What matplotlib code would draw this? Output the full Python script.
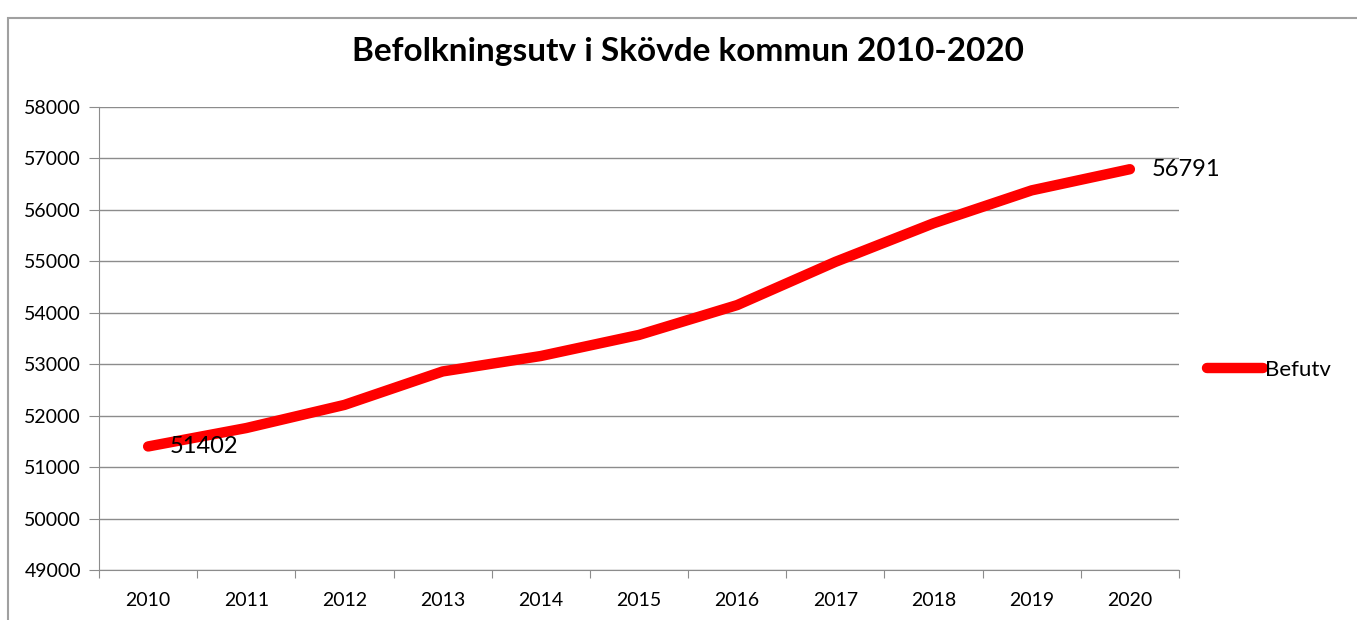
import matplotlib
matplotlib.use("Agg")
import matplotlib.pyplot as plt
from matplotlib.patches import Rectangle
import numpy as np

plt.rcParams['font.family'] = ['Lato', 'DejaVu Sans']

years = ['2010', '2011', '2012', '2013', '2014', '2015', '2016', '2017', '2018', '2019', '2020']
befutv = [51402, 51760, 52210, 52860, 53160, 53570, 54150, 54990, 55740, 56380, 56791]
yticks = [49000, 50000, 51000, 52000, 53000, 54000, 55000, 56000, 57000, 58000]

fig = plt.figure(figsize=(13.57, 6.2), dpi=100)
ax = fig.add_axes([0.0730, 0.0806, 0.7958, 0.7468])

# chart border (top and left visible)
fig.patches.append(Rectangle((8 / 1357, -0.1), 1.2, 1 - 18 / 620 + 0.1, transform=fig.transFigure,
                             fill=False, edgecolor='#a0a0a0', linewidth=1.5))

x = np.arange(len(years))
ax.plot(x, befutv, color='#ff0000', linewidth=7.5, solid_capstyle='round',
        solid_joinstyle='round', label='Befutv')

ax.text(x[0] + 0.22, befutv[0], str(befutv[0]), fontsize=17, va='center', ha='left')
ax.text(x[-1] + 0.22, befutv[-1], str(befutv[-1]), fontsize=17, va='center', ha='left')

ax.set_xlim(-0.5, len(years) - 0.5)
ax.set_ylim(49000, 58000)
ax.set_yticks(yticks)
ax.set_yticklabels([str(v) for v in yticks], fontsize=14)
ax.yaxis.grid(True, color='#8c8c8c', linewidth=1)
ax.set_axisbelow(True)

ax.set_xticks(np.arange(-0.5, len(years), 1))
ax.set_xticklabels([])
ax.set_xticks(x, minor=True)
ax.set_xticklabels(years, minor=True, fontsize=14)
ax.tick_params(axis='x', which='major', length=6, color='#8c8c8c', direction='out')
ax.tick_params(axis='x', which='minor', length=0, pad=16)
ax.tick_params(axis='y', length=7, color='#8c8c8c', pad=6)

for s in ['top', 'right']:
    ax.spines[s].set_visible(False)
for s in ['left', 'bottom']:
    ax.spines[s].set_color('#8c8c8c')

fig.text(688 / 1357, 1 - 52 / 620, 'Befolkningsutv i Skövde kommun 2010-2020',
         fontsize=24, fontweight='bold', ha='center', va='center')

fig.legend(loc='center left', bbox_to_anchor=(1187 / 1357, 1 - 370 / 620), frameon=False,
           fontsize=16, handlelength=2.5, handletextpad=0.1)

fig.savefig('out.png', dpi=100)
